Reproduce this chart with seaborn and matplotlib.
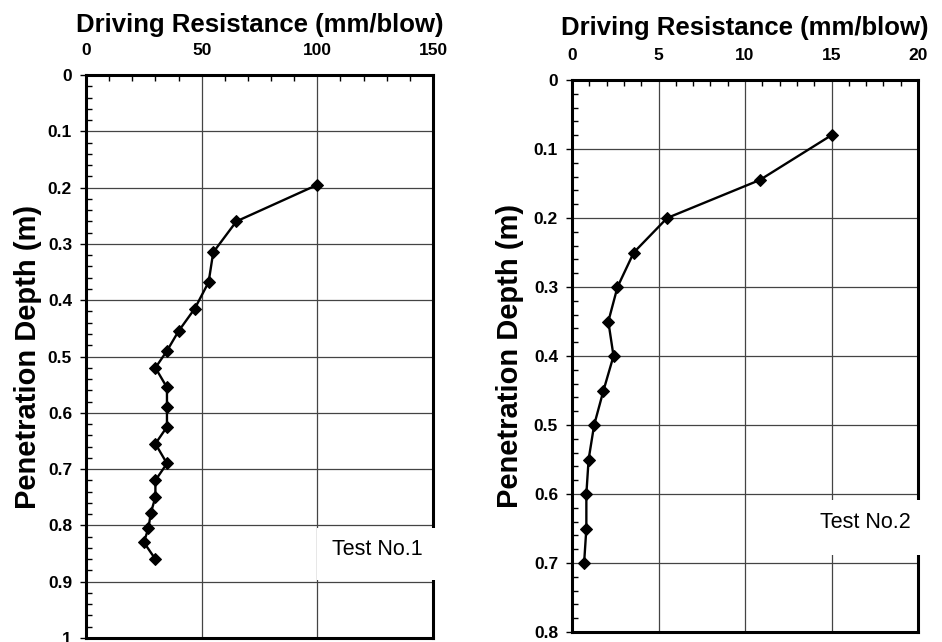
import matplotlib
matplotlib.use("Agg")
import matplotlib.pyplot as plt
from matplotlib.patches import Rectangle
from matplotlib.ticker import MultipleLocator, FormatStrFormatter
import seaborn as sns
import pandas as pd

# Test No.1: penetration per blow versus depth
test1_depth = [0.195, 0.26, 0.315, 0.368, 0.415, 0.455, 0.49, 0.52, 0.555, 0.59,
               0.625, 0.655, 0.69, 0.72, 0.75, 0.778, 0.805, 0.83, 0.86]
test1_resistance = [100, 65, 55, 53, 47, 40, 35, 30, 35, 35,
                    35, 30, 35, 30, 30, 28, 27, 25, 30]

# Test No.2
test2_depth = [0.08, 0.145, 0.20, 0.25, 0.30, 0.35, 0.40, 0.45, 0.50, 0.55,
               0.60, 0.65, 0.70]
test2_resistance = [15.0, 10.85, 5.5, 3.57, 2.63, 2.1, 2.4, 1.82, 1.28, 0.96,
                    0.83, 0.83, 0.7]

sns.set_theme(style="white")
plt.rcParams["font.family"] = ["Liberation Sans", "DejaVu Sans"]
plt.rcParams.update({
    "text.color": "black",
    "axes.labelcolor": "black",
    "xtick.color": "black",
    "ytick.color": "black",
})

fig = plt.figure(figsize=(9.42, 6.42), dpi=100)
ax1 = fig.add_axes([86 / 942, 4 / 642, 347 / 942, 563 / 642])
ax2 = fig.add_axes([572 / 942, 10 / 642, 346 / 942, 552 / 642])

panels = [
    (ax1, test1_resistance, test1_depth, "Test No.1", (0, 150), (1.0, 0), 50, 10,
     (100, 156), (0.805, 0.897), (126, 0.842), 8, 4),
    (ax2, test2_resistance, test2_depth, "Test No.2", (0, 20), (0.8, 0), 5, 1,
     (14.05, 22), (0.609, 0.688), (16.94, 0.642), 9, 7),
]

for (ax, xs, ys, name, xlim, ylim, xmaj, xmin, bx, by, tpos,
     title_pad, ylab_pad) in panels:
    df = pd.DataFrame({"resistance": xs, "depth": ys})
    sns.lineplot(data=df, x="resistance", y="depth", sort=False, estimator=None,
                 ax=ax, color="black", linewidth=1.7, marker="D",
                 markersize=6.5, markeredgecolor="black", zorder=4)
    ax.set_xlim(*xlim)
    ax.set_ylim(*ylim)

    ax.xaxis.set_major_locator(MultipleLocator(xmaj))
    ax.xaxis.set_minor_locator(MultipleLocator(xmin))
    ax.yaxis.set_major_locator(MultipleLocator(0.1))
    ax.yaxis.set_minor_locator(MultipleLocator(0.02))
    ax.yaxis.set_major_formatter(FormatStrFormatter("%g"))
    ax.xaxis.set_major_formatter(FormatStrFormatter("%g"))

    ax.xaxis.tick_top()
    ax.xaxis.set_label_position("top")
    ax.tick_params(axis="x", which="major", length=0, pad=12.5,
                   labelsize=12.5, top=True, bottom=False)
    ax.tick_params(axis="x", which="minor", direction="in", length=4,
                   width=1, top=True, bottom=False)
    ax.tick_params(axis="y", which="major", direction="out", length=4,
                   width=1, pad=6, labelsize=12.5, left=True)
    ax.tick_params(axis="y", which="minor", direction="in", length=4,
                   width=1, left=True)
    for lab in ax.get_xticklabels() + ax.get_yticklabels():
        lab.set_fontweight("bold")

    ax.grid(True, which="major", color="#444444", linewidth=0.9)
    ax.set_axisbelow(True)
    for sp in ax.spines.values():
        sp.set_visible(True)
        sp.set_color("black")
        sp.set_linewidth(2.2)

    ax.set_xlabel("Driving Resistance (mm/blow)", fontsize=18.5,
                  fontweight="bold", labelpad=title_pad)
    ax.set_ylabel("Penetration Depth (m)", fontsize=21,
                  fontweight="bold", labelpad=ylab_pad)

    # white label box sitting over the right-hand border
    ax.add_patch(Rectangle((bx[0], by[0]), bx[1] - bx[0], by[1] - by[0],
                           facecolor="white", edgecolor="none",
                           clip_on=False, zorder=6))
    ax.text(tpos[0], tpos[1], name, ha="center", va="center",
            fontsize=15.5, color="black", zorder=7)

fig.savefig("out.png", dpi=100)
